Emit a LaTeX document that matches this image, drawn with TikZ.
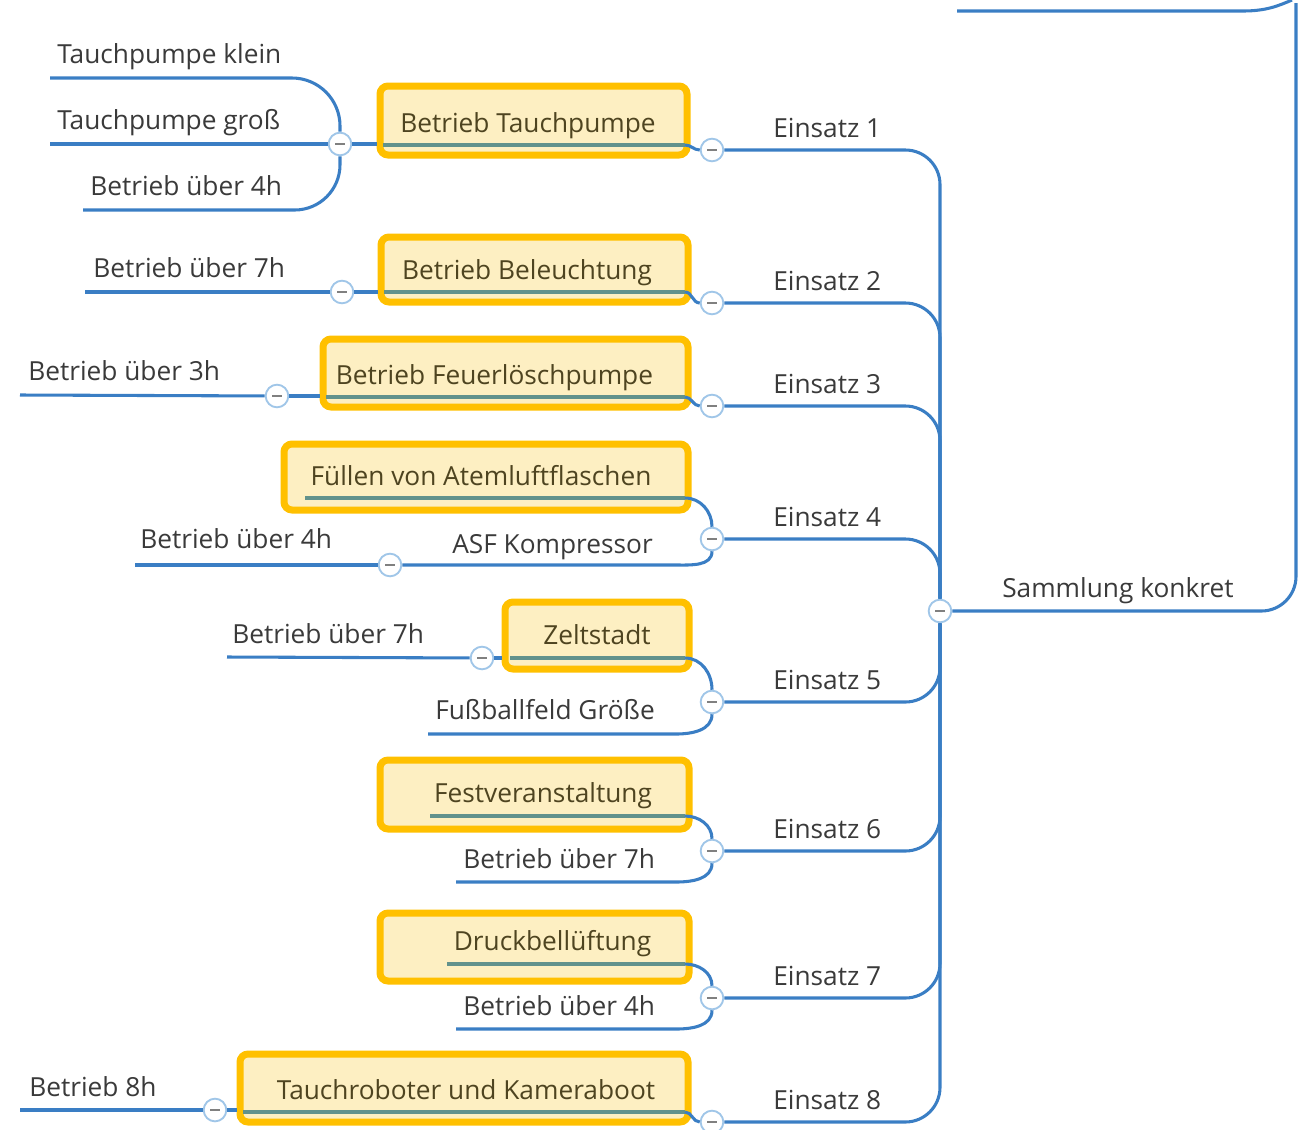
\documentclass[tikz,border=0pt]{standalone}
\usepackage{fontspec}
\setmainfont{Open Sans}
\definecolor{linecol}{RGB}{58,126,196}
\definecolor{boxline}{RGB}{255,192,0}
\definecolor{boxfill}{RGB}{253,239,194}
\definecolor{boxtext}{RGB}{78,68,32}
\definecolor{ulcol}{RGB}{98,146,140}
\definecolor{foldline}{RGB}{160,198,232}
\definecolor{labtext}{RGB}{58,58,58}

\begin{document}
\begin{tikzpicture}[x=0.75pt,y=-0.75pt,
  branch/.style={draw=linecol,line width=2.3pt},
  uline/.style={draw=ulcol,line width=2.3pt},
  fold/.style={circle,draw=foldline,line width=1.4pt,fill=white,minimum size=17pt,inner sep=0pt,
    path picture={\draw[gray,line width=1.3pt] ([xshift=-3.5pt]path picture bounding box.center) -- ([xshift=3.5pt]path picture bounding box.center);}},
  leaf/.style={anchor=base west,inner sep=0pt,text=labtext,font=\fontsize{19.7}{23}\selectfont},
  title/.style={anchor=base,inner sep=0pt,text=boxtext,font=\fontsize{19.7}{23}\selectfont},
  topic/.style={rectangle,draw=boxline,fill=boxfill,line width=5.25pt,rounded corners=6pt,inner sep=0pt}]
\useasboundingbox (0,0) rectangle (1312,1129);

\node[fold] (r) at (940,611) {};
\node[leaf] (root) at (1002,597) {Sammlung konkret};
\coordinate (top) at (1296,3);
\coordinate (prev) at (957,11);
\coordinate (up) at (1292,0);
\draw[branch,rounded corners=26pt] (r) -- (1296,611) -- (top);
\draw[branch] (prev) -- (1243,11) .. controls (1266,11) and (1278,6) .. (up);

\foreach \k/\y in {1/150,2/303,3/406,4/539,5/702,6/851,7/998,8/1122}{
  \node[fold] (c\k) at (712,\y) {};
  \node[leaf] (n\k) at (773,\y-13) {Einsatz \k};
  \draw[branch,rounded corners=26pt] (r) |- (c\k);
}

% Einsatz 1
\node[topic,minimum width=230.25pt,minimum height=51.75pt] (b1) at (533.5,120.5) {};
\node[title] (t1) at (528,132) {Betrieb Tauchpumpe};
\coordinate (u1) at (685,145);
\draw[uline] (383,145) -- (u1);
\draw[branch] (u1) to[out=0,in=180] (c1);
\node[fold] (d1) at (340,144) {};
\draw[branch] (d1) -- (d1 -| b1.west);
\node[leaf] (l11) at (57,63) {Tauchpumpe klein};
\node[leaf] (l12) at (57,129) {Tauchpumpe groß};
\node[leaf] (l13) at (90,195) {Betrieb über 4h};
\coordinate (k11) at (50,78);
\coordinate (k12) at (50,144);
\coordinate (k13) at (83,210);
\draw[branch,rounded corners=36pt] (d1) |- (k11);
\draw[branch] (d1) -- (k12);
\draw[branch,rounded corners=34pt] (d1) |- (k13);

% Einsatz 2
\node[topic,minimum width=230.25pt,minimum height=48.75pt] (b2) at (534.5,269.5) {};
\node[title] (t2) at (527,279) {Betrieb Beleuchtung};
\coordinate (u2) at (685,292);
\draw[uline] (384,292) -- (u2);
\draw[branch] (u2) to[out=0,in=180] (c2);
\node[fold] (d2) at (342,292) {};
\draw[branch] (d2) -- (d2 -| b2.west);
\node[leaf] (l2) at (93,277) {Betrieb über 7h};
\coordinate (k2) at (85,292);
\draw[branch] (d2) -- (k2);

% Einsatz 3
\node[topic,minimum width=273.75pt,minimum height=51pt] (b3) at (505.5,373) {};
\node[title] (t3) at (494.5,384) {Betrieb Feuerlöschpumpe};
\coordinate (u3) at (685,397);
\draw[uline] (326,397) -- (u3);
\draw[branch] (u3) to[out=0,in=180] (c3);
\node[fold] (d3) at (277,396) {};
\draw[branch] (d3) -- (d3 -| b3.west);
\node[leaf] (l3) at (28,380) {Betrieb über 3h};
\coordinate (k3) at (20,395);
\draw[branch] (d3) -- (k3);

% Einsatz 4
\node[topic,minimum width=303pt,minimum height=49.5pt] (b4) at (486,477) {};
\node[title] (t4) at (481,485) {Füllen von Atemluftflaschen};
\coordinate (u4) at (685,498);
\draw[uline] (305,498) -- (u4);
\draw[branch] (u4) to[out=0,in=90] (c4.north);
\node[fold] (a4) at (390,565) {};
\node[leaf] (l41) at (452,553) {ASF Kompressor};
\draw[branch] (c4.south) to[out=-90,in=0] (676,565) -- (a4);
\node[leaf] (l42) at (140,548) {Betrieb über 4h};
\coordinate (k4) at (135,565);
\draw[branch] (a4) -- (k4);

% Einsatz 5
\node[topic,minimum width=138pt,minimum height=50.25pt] (b5) at (597,635.5) {};
\node[title] (t5) at (597,644) {Zeltstadt};
\coordinate (u5) at (685,658);
\draw[uline] (510,658) -- (u5);
\draw[branch] (u5) to[out=0,in=90] (c5.north);
\node[fold] (d5) at (482,658) {};
\draw[branch] (d5) -- (d5 -| b5.west);
\node[leaf] (l51) at (232,643) {Betrieb über 7h};
\coordinate (k51) at (227,657);
\draw[branch] (d5) -- (k51);
\node[leaf] (l52) at (435,719) {Fußballfeld Größe};
\coordinate (k52) at (428,734);
\draw[branch] (c5.south) to[out=-90,in=0] (676,734) -- (k52);

% Einsatz 6
\node[topic,minimum width=231.75pt,minimum height=51.75pt] (b6) at (534.5,794.5) {};
\node[title] (t6) at (543,802) {Festveranstaltung};
\coordinate (u6) at (685,816);
\draw[uline] (430,816) -- (u6);
\draw[branch] (u6) to[out=0,in=90] (c6.north);
\node[leaf] (l6) at (463,868) {Betrieb über 7h};
\coordinate (k6) at (456,882);
\draw[branch] (c6.south) to[out=-90,in=0] (676,882) -- (k6);

% Einsatz 7
\node[topic,minimum width=231.75pt,minimum height=51pt] (b7) at (534.5,947) {};
\node[title] (t7) at (552.5,950) {Druckbellüftung};
\coordinate (u7) at (685,964);
\draw[uline] (447,964) -- (u7);
\draw[branch] (u7) to[out=0,in=90] (c7.north);
\node[leaf] (l7) at (463,1015) {Betrieb über 4h};
\coordinate (k7) at (456,1029);
\draw[branch] (c7.south) to[out=-90,in=0] (676,1029) -- (k7);

% Einsatz 8
\node[topic,minimum width=336pt,minimum height=51pt] (b8) at (464,1088) {};
\node[title] (t8) at (466,1099) {Tauchroboter und Kameraboot};
\coordinate (u8) at (685,1112);
\draw[uline] (243,1112) -- (u8);
\draw[branch] (u8) to[out=0,in=180] (c8);
\node[fold] (d8) at (215,1110) {};
\draw[branch] (d8) -- (d8 -| b8.west);
\node[leaf] (l8) at (29,1096) {Betrieb 8h};
\coordinate (k8) at (20,1110);
\draw[branch] (d8) -- (k8);
\end{tikzpicture}
\end{document}
